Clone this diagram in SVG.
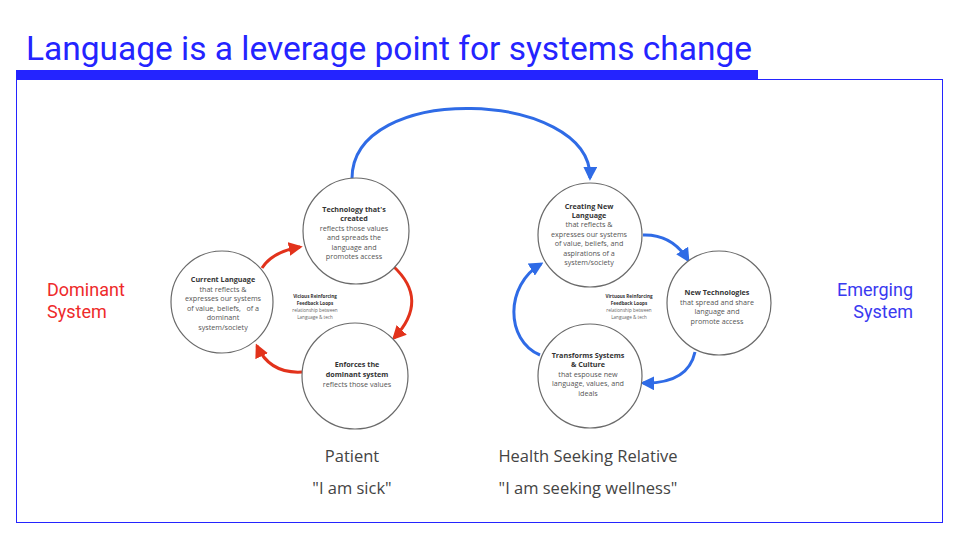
<svg xmlns="http://www.w3.org/2000/svg" width="960" height="540" viewBox="0 0 960 540">
<style>
.c{fill:#fff;stroke:#6a6a6a;stroke-width:1.2}
.t{font-family:"Open Sans","Noto Sans",sans-serif;font-size:7.2px;fill:#555;text-anchor:middle}
.b{font-weight:bold;fill:#333}
.s{font-family:"Open Sans","Noto Sans",sans-serif;font-size:4.6px;fill:#666;text-anchor:middle}
.red{fill:none;stroke:#e2321b;stroke-width:3}
.blue{fill:none;stroke:#2f6be6;stroke-width:3}
.lab{font-family:"Open Sans","Noto Sans",sans-serif;font-size:16.5px;fill:#444;text-anchor:middle}
.side{font-family:Roboto,"Liberation Sans",sans-serif;font-size:18px}
</style>
<defs>
<marker id="ar" viewBox="0 0 10 10" refX="8" refY="5" markerWidth="14" markerHeight="14" markerUnits="userSpaceOnUse" orient="auto"><path d="M0,0 L10,5 L0,10 z" fill="#e2321b"/></marker>
<marker id="ab" viewBox="0 0 10 10" refX="8" refY="5" markerWidth="14" markerHeight="14" markerUnits="userSpaceOnUse" orient="auto"><path d="M0,0 L10,5 L0,10 z" fill="#2f6be6"/></marker>
</defs>
<rect width="960" height="540" fill="#fff"/>
<text x="26" y="60" font-family="Roboto,'Liberation Sans',sans-serif" font-size="33" fill="#2424ff" textLength="726" lengthAdjust="spacingAndGlyphs">Language is a leverage point for systems change</text>
<rect x="16" y="70" width="742" height="9" fill="#2424ff"/>
<rect x="16.5" y="79.5" width="926" height="443" fill="none" stroke="#2424ff" stroke-width="1"/>

<g id="connectors">
<path class="red" d="M262,268 Q272,252 300,247" marker-end="url(#ar)"/>
<path class="red" d="M393,266 Q430,300 394,338" marker-end="url(#ar)"/>
<path class="red" d="M302,372 Q270,374 257,346" marker-end="url(#ar)"/>
<path class="blue" d="M352,180 C350,80 592,90 590,178" marker-end="url(#ab)"/>
<path class="blue" d="M643,235 Q672,234 688,260" marker-end="url(#ab)"/>
<path class="blue" d="M695,352 Q688,384 643,383" marker-end="url(#ab)"/>
<path class="blue" d="M540,355 C505,340 505,285 541,264" marker-end="url(#ab)"/>
</g>

<g id="current-language">
<circle class="c" cx="222" cy="302" r="51"/>
<text class="t"><tspan class="b" x="223" y="282">Current Language</tspan><tspan x="223" y="291.5">that reflects &amp;</tspan><tspan x="223" y="301">expresses our systems</tspan><tspan x="223" y="310.5">of value, beliefs,&#160;&#160; of a</tspan><tspan x="223" y="320">dominant</tspan><tspan x="223" y="329.5">system/society</tspan></text>
</g>
<g id="technology">
<circle class="c" cx="356" cy="231" r="53"/>
<text class="t"><tspan class="b" x="354" y="211.5">Technology that's</tspan><tspan class="b" x="354" y="221">created</tspan><tspan x="354" y="230.5">reflects those values</tspan><tspan x="354" y="240">and spreads the</tspan><tspan x="354" y="249.5">language and</tspan><tspan x="354" y="259">promotes access</tspan></text>
</g>
<g id="enforces">
<circle class="c" cx="355" cy="376" r="53"/>
<text class="t"><tspan class="b" x="357" y="366.5">Enforces the</tspan><tspan class="b" x="357" y="376.5">dominant system</tspan><tspan x="357" y="386.5">reflects those values</tspan></text>
</g>
<g id="vicious-label">
<text class="s"><tspan class="b" x="315" y="297.5">Vicious Reinforcing</tspan><tspan class="b" x="315" y="304.5">Feedback Loops</tspan><tspan x="315" y="311.5">relationship between</tspan><tspan x="315" y="318.5">Language &amp; tech</tspan></text>
</g>

<g id="creating-new-language">
<circle class="c" cx="590" cy="235" r="52"/>
<text class="t"><tspan class="b" x="589" y="208.5">Creating New</tspan><tspan class="b" x="589" y="218">Language</tspan><tspan x="589" y="227">that reflects &amp;</tspan><tspan x="589" y="236.5">expresses our systems</tspan><tspan x="589" y="246">of value, beliefs, and</tspan><tspan x="589" y="255.5">aspirations of a</tspan><tspan x="589" y="265">system/society</tspan></text>
</g>
<g id="new-technologies">
<circle class="c" cx="719" cy="303" r="52"/>
<text class="t"><tspan class="b" x="717" y="294.5">New Technologies</tspan><tspan x="717" y="304.5">that spread and share</tspan><tspan x="717" y="314">language and</tspan><tspan x="717" y="323.5">promote access</tspan></text>
</g>
<g id="transforms">
<circle class="c" cx="590" cy="376" r="52"/>
<text class="t"><tspan class="b" x="588" y="357.5">Transforms Systems</tspan><tspan class="b" x="588" y="367">&amp; Culture</tspan><tspan x="588" y="376.5">that espouse new</tspan><tspan x="588" y="386">language, values, and</tspan><tspan x="588" y="395.5">ideals</tspan></text>
</g>
<g id="virtuous-label">
<text class="s"><tspan class="b" x="629" y="297.5">Virtuous Reinforcing</tspan><tspan class="b" x="629" y="304.5">Feedback Loops</tspan><tspan x="629" y="311.5">relationship between</tspan><tspan x="629" y="318.5">Language &amp; tech</tspan></text>
</g>

<g id="dominant-system">
<text class="side" fill="#ee2a2a"><tspan x="47" y="296">Dominant</tspan><tspan x="47" y="318">System</tspan></text>
</g>
<g id="emerging-system">
<text class="side" fill="#3a3af0" text-anchor="end"><tspan x="913" y="296">Emerging</tspan><tspan x="913" y="318">System</tspan></text>
</g>
<g id="bottom-labels">
<text class="lab" x="352" y="462">Patient</text>
<text class="lab" x="352" y="494">"I am sick"</text>
<text class="lab" x="588" y="462">Health Seeking Relative</text>
<text class="lab" x="588" y="494">"I am seeking wellness"</text>
</g>
</svg>
